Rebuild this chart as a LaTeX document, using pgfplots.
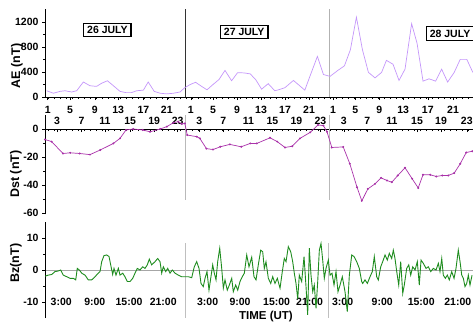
\documentclass[border=0pt]{standalone}
\usepackage{pgfplots}
\pgfplotsset{compat=1.18}
\usepackage{fontspec}
\setmainfont{Liberation Sans}
\definecolor{aecol}{RGB}{196,150,250}
\definecolor{dstcol}{RGB}{170,50,170}
\definecolor{dstmark}{RGB}{90,20,90}
\definecolor{bzcol}{RGB}{30,140,30}
\newcommand{\tfont}{\fontsize{10.5}{12}\selectfont\bfseries}
\newcommand{\lfont}{\fontsize{12.5}{14}\selectfont\bfseries}
\begin{document}
\begin{tikzpicture}[x=1pt,y=1pt]
\pgfplotsset{
  panel/.style={
    scale only axis, width=428pt, xmin=0.5, xmax=71.83,
    anchor=south west,
    axis y line=left, axis x line=middle,
    every outer y axis line/.append style={-},
    every inner x axis line/.append style={-},
    every outer x axis line/.append style={-},
    every inner y axis line/.append style={-},
    ticklabel style={font=\tfont},
    /pgf/number format/assume math mode=true,
    /pgf/number format/1000 sep={},
    ytick align=outside, xtick align=outside,
    major tick length=3pt, minor tick length=2pt,
    tick style={black, line width=0.5pt},
    axis line style={line width=0.6pt},
    hide obscured x ticks=false,
  }
}
% ---------------- AE ----------------
\begin{axis}[panel, at={(45pt,230pt)}, height=87.5pt, ymin=0, ymax=1400,
  ytick={0,400,800,1200}, minor ytick={200,600,1000},
  minor xtick={1,2,...,71},
  xtick={0.95,4.67,8.8,12.7,16.9,20.8,24.8,28.5,32.5,36.5,40.5,44.5,48.5,52.2,56.2,60.2,64.3,68.5},
  xticklabels={1,5,9,13,17,21,1,5,9,13,17,21,1,5,9,13,17,21},
  xticklabel style={yshift=-2.5pt}]
\draw[gray!40!black, line width=0.7pt] (axis cs:23.83,0) -- (axis cs:23.83,1400);
\draw[gray!60, line width=0.7pt] (axis cs:47.83,0) -- (axis cs:47.83,1400);
\addplot[aecol, line width=0.7pt] coordinates {
(0.78,100) (1.89,60) (3,90) (3.83,100) (4.94,80) (5.78,100) (6.89,240) (8,180) (9.1,170) (9.94,220)
(10.9,260) (11.9,180) (13,90) (14,70) (14.9,70) (15.8,100) (16.9,110) (17.7,240) (18.7,90) (19.7,60)
(20.8,50) (21.9,60) (23,80) (23.8,150) (24.7,200) (25.6,235) (26.6,170) (27.5,115) (28.5,200) (29.5,280)
(30.5,425) (31.6,260) (32.6,390) (33.7,385) (34.7,370) (35.6,280) (36.6,125) (37.7,213) (38.8,100) (39.6,120)
(40.5,150) (41.9,265) (42.7,200) (43.8,110) (44.9,395) (45.9,650) (46.9,360) (48,330) (49.3,425) (50.4,498)
(51.4,758) (52.4,1277) (53.4,758) (54.4,394) (55.5,306) (56.6,394) (57.4,586) (58.5,524) (59.5,265) (60.5,446)
(61.6,1173) (62.5,862) (63.5,254) (64.5,291) (65.6,254) (66.6,446) (67.6,239) (68.7,394) (69.7,602) (70.8,602)
(71.8,394)};
\node[draw, line width=1.3pt, fill=white, font=\tfont, inner xsep=3.5pt, inner ysep=3pt, text height=7.5pt, text depth=0pt] at (axis cs:10.9,1072) {26 JULY};
\node[draw, line width=1.3pt, fill=white, font=\tfont, inner xsep=3.5pt, inner ysep=3pt, text height=7.5pt, text depth=0pt] at (axis cs:33.7,1040) {27 JULY};
\node[draw, line width=1.3pt, fill=white, font=\tfont, inner xsep=3.5pt, inner ysep=3pt, text height=7.5pt, text depth=0pt] at (axis cs:68.0,1016) {28 JULY};
\end{axis}
% ---------------- Dst ----------------
\begin{axis}[panel, at={(45pt,112.6pt)}, height=99.4pt, ymin=-61, ymax=10,
  ytick={0,-20,-40,-60}, minor ytick={-10,-30,-50},
  minor xtick={1,2,...,71},
  xtick={2.5,6.6,10.5,14.7,18.7,22.6,26.2,30.2,34.4,38.4,42.4,46.4,50.3,54.2,58.3,62.5,66.5,70.8},
  xticklabels={3,7,11,15,19,23,3,7,11,15,19,23,3,7,11,15,19,23},
  xticklabel style={anchor=south, yshift=4pt}]
\draw[gray!55, line width=0.7pt] (axis cs:23.83,10) -- (axis cs:23.83,-51);
\draw[gray!55, line width=0.7pt] (axis cs:47.83,10) -- (axis cs:47.83,-51);
\addplot[dstcol, line width=0.7pt, mark=*, mark size=0.6pt, mark options={draw=none, fill=dstmark}] coordinates {
(0.5,-7.5) (1.6,-9) (3.5,-17.5) (4.7,-17) (6.3,-17.5) (8,-18.3) (9.7,-15) (11.9,-10.3) (13,-6.7) (14,-0.7)
(15.2,0) (16.8,-0.7) (18,-2) (19.7,0) (20.8,1.7) (21.9,4.5) (22.7,5.3) (23.3,3.6) (23.8,4) (24.2,-4.3)
(25.8,-5.5) (26.3,-6.7) (27.4,-14) (28.5,-14.7) (29.7,-12.7) (31.3,-11) (33.2,-12.7) (34.7,-10.3) (35.8,-10.3) (38,-6.3)
(39.2,-9) (40.5,-13.2) (41.7,-12.3) (43,-6.7) (44.7,-2.4) (46,2.9) (46.9,2.4) (47.5,-2) (48.3,-13.2) (50.2,-12.8)
(51.3,-24.8) (52.5,-41.6) (53.3,-51.3) (54.3,-42.8) (55.5,-39.2) (56.5,-34.9) (57.5,-36.8) (58.3,-38) (59.3,-33.2) (60.5,-27.7)
(61.7,-35.6) (62.7,-42.1) (63.5,-32.7) (64.7,-32.7) (65.7,-33.9) (66.7,-33.2) (67.7,-33.2) (68.7,-31.5) (69.7,-24.8) (70.7,-16.8)
(71.7,-15.9)};
\end{axis}
% ---------------- Bz ----------------
\begin{axis}[panel, at={(45pt,9pt)}, height=96pt, ymin=-15, ymax=15,
  ytick={-10,0,10}, minor ytick={-5,5},
  x axis line style={gray!70},
  xtick={3.2,8.8,14.5,20.2,27.6,33.0,39.1,44.6,50.1,56.7,63.2,69.3},
  xticklabels={3:00,9:00,15:00,21:00,3:00,9:00,15:00,21:00,3:00,9:00,15:00,21:00},
  xtick style={draw=none},
  xticklabel style={yshift=-22pt}]
\draw[gray!50, line width=0.7pt] (axis cs:23.9,8.4) -- (axis cs:23.9,-15);
\draw[gray!50, line width=0.7pt] (axis cs:47.75,8.4) -- (axis cs:47.75,-15);
\addplot[bzcol, line width=0.9pt] coordinates {
(0.22,-2.1) (1.05,-1.6) (1.62,-1.4) (2.17,-0.5) (2.72,-0.3) (3.12,0) (3.55,-1.6) (4.12,-2.1) (4.67,-2.6) (5.22,-2.6)
(5.62,-3.1) (5.88,0.5) (6.22,0) (6.62,-1) (7.17,-1.6) (7.72,-3.1) (8.28,-3.1) (8.83,-2.1) (9.38,-1) (9.67,-0.5)
(9.95,2.6) (10.33,4.5) (10.78,4.7) (11.17,4.2) (11.45,1.6) (11.78,-1.4) (12.0,0.5) (12.33,-1.6) (12.72,0.5) (13.0,-1.6)
(13.45,-1) (13.83,-2.1) (14.22,-3.6) (14.67,-3.6) (15.12,-2.6) (15.5,-1) (15.88,0.5) (16.33,0) (16.78,1) (17.17,0.5)
(17.55,1.6) (17.88,3.4) (18.28,1.6) (18.83,2.6) (19.28,3.6) (19.67,2.6) (19.95,-1) (20.22,1) (20.62,-0.5) (20.95,0.5)
(21.33,-1) (21.72,0) (22.17,-1) (22.72,-1.6) (23.28,-2.1) (23.83,-2.1) (24.38,-2.1) (24.95,-2.4) (25.38,1) (25.78,2.6)
(26.17,0.5) (26.5,-4.2) (26.88,-5.2) (27.17,-2.6) (27.5,-0.5) (27.83,-6.3) (28.12,-2.6) (28.45,1.6) (28.72,-1) (29.0,-3.1)
(29.28,2.6) (29.62,6.8) (29.95,0.5) (30.22,-5.7) (30.5,-3.1) (30.88,-6.3) (31.22,-4.7) (31.62,-2.6) (31.88,-6.8) (32.28,-4.7)
(32.62,-6.3) (33.0,-3.6) (33.38,-2.1) (33.72,-1) (34.12,4.7) (34.5,1) (34.95,4) (35.33,-2.1) (35.67,-3.1) (36.05,1.6)
(36.45,6.2) (36.78,5.7) (37.05,0.5) (37.33,2.6) (37.72,-2.6) (38.12,-4.2) (38.45,-2.1) (38.83,-4.2) (39.22,-2.6) (39.67,-5.7)
(40.05,-0.5) (40.38,3.6) (40.67,2.6) (41.05,7.3) (41.45,5.7) (41.78,2.6) (42.05,-1) (42.33,-4.2) (42.62,-9) (42.88,-1.6)
(43.28,-3.6) (43.67,4.2) (44.0,-5.2) (44.28,-14) (44.55,6.8) (44.83,-1.6) (45.12,-6.8) (45.38,-4.7) (45.67,-12) (45.95,-3.6)
(46.22,6.2) (46.5,8.3) (46.78,3.1) (47.05,-2.6) (47.33,0.5) (47.72,3.1) (48.0,-1.6) (48.33,-1) (48.67,-4.7) (49.0,-0.5)
(49.33,-6.8) (49.67,-4.7) (50.05,-2.1) (50.5,-6.8) (50.88,-13) (51.22,-1.6) (51.62,4.7) (52.0,4.2) (52.45,2.6) (52.88,0.5)
(53.28,-3.6) (53.45,-4.2) (53.83,-3.1) (54.22,-4.2) (54.67,-2.1) (55.05,-0.5) (55.38,4.2) (55.78,-2.1) (56.05,-3.1) (56.45,1)
(56.78,2.6) (57.17,4.7) (57.55,3.1) (57.88,5.2) (58.28,3.6) (58.55,6.2) (58.83,3.6) (59.12,-0.5) (59.45,-4.7) (59.78,2.6)
(60.12,-7.3) (60.38,-4.7) (60.78,0.5) (61.12,1.6) (61.45,-1.6) (61.78,1) (62.17,0) (62.55,2.6) (62.88,-4.7) (63.17,3.1)
(63.55,2.1) (64.0,0.5) (64.38,1) (64.78,-0.5) (65.22,0.5) (65.67,0) (66.05,2.1) (66.33,-0.5) (66.62,3.6) (66.88,-1.6)
(67.22,-2.6) (67.55,-1.6) (67.88,-3.1) (68.28,-0.5) (68.67,-2.6) (69.0,0.5) (69.38,6.2) (69.67,2.6) (69.95,-1.6) (70.22,-2.6)
(70.5,-5.2) (70.78,-4.2) (71.05,-1.6) (71.33,-4.7) (71.67,-1.6)};
\end{axis}
\node[rotate=90, font=\lfont] at (17pt,261pt) {AE (nT)};
\node[rotate=90, font=\lfont] at (16pt,153pt) {Dst (nT)};
\node[rotate=90, font=\lfont] at (16pt,64pt) {Bz(nT)};
\node[font=\fontsize{11.5}{13}\selectfont\bfseries] at (266pt,10pt) {TIME (UT)};
\pgfresetboundingbox
\path (0pt,0pt) rectangle (473pt,327pt);
\end{tikzpicture}
\end{document}
